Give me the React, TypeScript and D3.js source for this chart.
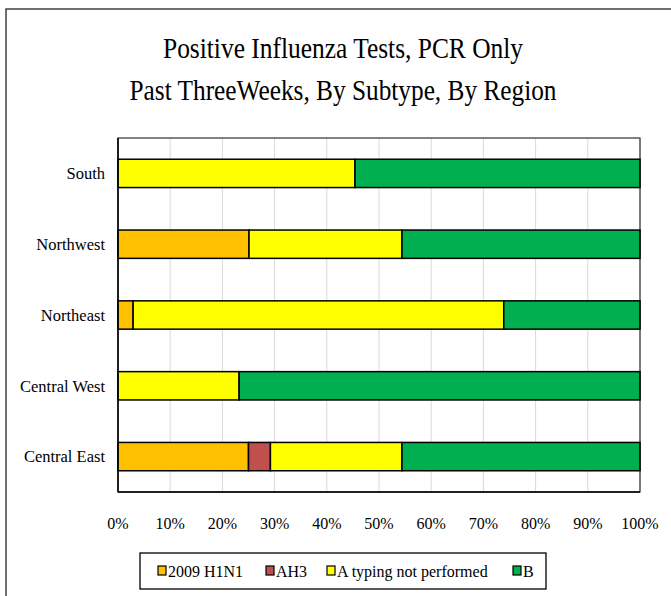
import React from "react";
import * as d3 from "d3";

const regions = ["South", "Northwest", "Northeast", "Central West", "Central East"];
const seriesNames = ["2009 H1N1", "AH3", "A typing not performed", "B"];
const seriesColors = ["#FFC000", "#C0504D", "#FFFF00", "#00B050"];
const h1n1 = [0, 25.1, 2.9, 0, 25.0];
const ah3 = [0, 0, 0, 0, 4.2];
const aNotTyped = [45.4, 29.3, 71.0, 23.2, 25.2];
const bValues = [54.6, 45.6, 26.1, 76.8, 45.6];
const xTicks = [0, 10, 20, 30, 40, 50, 60, 70, 80, 90, 100];
const titleLines = ["Positive Influenza  Tests, PCR Only", "Past ThreeWeeks, By Subtype, By Region"];

const W = 671;
const H = 596;
const plot = { left: 118, right: 640, top: 138, bottom: 492 };
const tf = { fontFamily: "Liberation Serif" };

export default function App() {
  const x = d3.scaleLinear().domain([0, 100]).range([plot.left, plot.right]);
  const y = d3
    .scaleBand<string>()
    .domain(regions)
    .range([plot.top, plot.bottom])
    .paddingInner(0.6)
    .paddingOuter(0.3);

  const table = regions.map((r, i) => ({
    region: r,
    "2009 H1N1": h1n1[i],
    AH3: ah3[i],
    "A typing not performed": aNotTyped[i],
    B: bValues[i],
  }));
  const stacked = d3.stack<any>().keys(seriesNames)(table);

  const legendX = [158, 266, 327, 513];
  const titleWidths = [360, 427];

  return (
    <svg width={W} height={H} style={{ position: "absolute", left: 0, top: 0 }}>
      <rect x={0} y={0} width={W} height={H} fill="#fff" />
      {/* outer frame */}
      <rect x={6} y={9} width={W + 20} height={H + 20} fill="none" stroke="#404040" strokeWidth={1.5} />
      {/* title */}
      {titleLines.map((t, i) => (
        <text
          key={i}
          x={343}
          y={58 + i * 42}
          textAnchor="middle"
          fontSize={30}
          fill="#000"
          style={tf}
          textLength={titleWidths[i]}
          lengthAdjust="spacingAndGlyphs"
        >
          {t}
        </text>
      ))}
      {/* gridlines */}
      {xTicks.map((t) => (
        <line key={t} x1={x(t)} x2={x(t)} y1={plot.top} y2={plot.bottom} stroke="#d9d9d9" strokeWidth={1} />
      ))}
      {/* plot border */}
      <rect
        x={plot.left}
        y={plot.top}
        width={plot.right - plot.left}
        height={plot.bottom - plot.top}
        fill="none"
        stroke="#404040"
        strokeWidth={1.3}
      />
      {/* bars */}
      {stacked.map((s, si) =>
        s.map((d, di) =>
          d[1] - d[0] > 0 ? (
            <rect
              key={`${si}-${di}`}
              x={x(d[0])}
              y={y(regions[di])!}
              width={x(d[1]) - x(d[0])}
              height={y.bandwidth()}
              fill={seriesColors[si]}
              stroke="#000"
              strokeWidth={1.5}
            />
          ) : null
        )
      )}
      {/* axis lines */}
      <line x1={plot.left} x2={plot.left} y1={plot.top} y2={plot.bottom} stroke="#000" strokeWidth={1.5} />
      <line x1={plot.left} x2={plot.right} y1={plot.bottom} y2={plot.bottom} stroke="#000" strokeWidth={1.5} />
      {/* category labels */}
      {regions.map((r) => (
        <text
          key={r}
          x={105}
          y={y(r)! + y.bandwidth() / 2}
          dy="0.35em"
          textAnchor="end"
          fontSize={16.5}
          fill="#000"
          style={tf}
        >
          {r}
        </text>
      ))}
      {/* x tick labels */}
      {xTicks.map((t) => (
        <text key={t} x={x(t)} y={523} dy="0.35em" textAnchor="middle" fontSize={16} fill="#000" style={tf}>
          {t}%
        </text>
      ))}
      {/* legend */}
      <rect x={140} y={553} width={406} height={36} fill="#fff" stroke="#000" strokeWidth={1.3} />
      {seriesNames.map((name, i) => (
        <g key={name}>
          <rect x={legendX[i]} y={566} width={8} height={9} fill={seriesColors[i]} stroke="#000" strokeWidth={1.2} />
          <text x={legendX[i] + 10} y={571} dy="0.35em" fontSize={16} fill="#000" style={tf}>
            {name}
          </text>
        </g>
      ))}
    </svg>
  );
}
